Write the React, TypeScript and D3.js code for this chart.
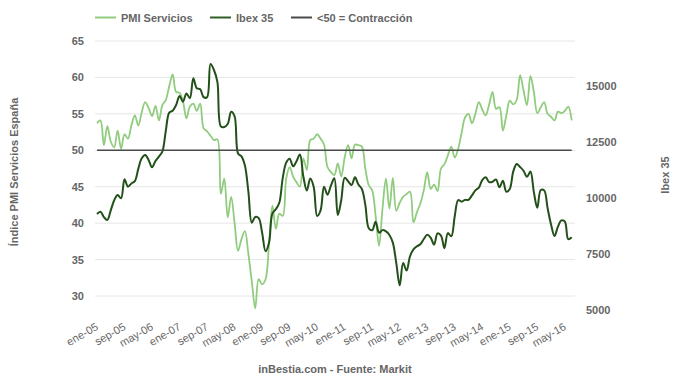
import React from "react";
import * as d3 from "d3";

const MONTHS = ["ene", "feb", "mar", "abr", "may", "jun", "jul", "ago", "sep", "oct", "nov", "dic"];
const START_YEAR = 5; // 2005

const pmiServicios: number[] = [
  53.7, 54.1, 50.7, 53.3, 51.2, 50.4, 52.7, 50.2, 52.2, 51.6, 53.4, 54.8,
  53.4, 55.2, 56.6, 55.8, 54.7, 56.1, 54.1, 56.2, 56.9, 58.8, 60.4, 58.0,
  57.9, 56.7, 54.4, 56.0, 56.4, 55.4, 56.4, 53.0, 52.6, 52.0, 51.4, 51.5,
  44.0, 46.1, 40.8, 43.6, 40.0, 36.2, 37.8, 38.9, 35.8, 32.0, 28.3, 32.3,
  31.6, 32.3, 37.0, 42.4, 39.2, 41.3, 41.0, 46.1, 47.7, 46.4, 45.6, 45.0,
  48.9, 47.3, 51.4, 51.6, 52.2, 51.6, 50.8, 47.7, 47.0, 46.6, 48.2, 46.4,
  49.0, 50.7, 48.9, 50.8, 50.7, 50.5, 47.5, 45.2, 44.5, 41.0, 36.9, 42.0,
  46.1, 42.0, 46.2, 41.7, 42.8, 43.6, 44.0, 44.3, 40.1, 41.5, 42.7, 44.5,
  47.0, 44.7, 45.3, 44.4, 47.5, 48.1, 49.3, 50.5, 49.0, 50.2, 52.4, 54.5,
  55.0, 53.7, 55.0, 56.6, 55.6, 54.8, 56.3, 58.0, 55.7, 55.9, 52.7, 54.8,
  56.8, 56.3, 56.9, 60.3, 58.2, 56.2, 60.2, 58.0, 55.1, 55.9, 56.6, 55.0,
  54.6, 54.1, 55.3, 55.1, 55.4, 56.0, 54.1,
];

const ibex35: number[] = [
  9286, 9390, 9150, 9018, 9450, 9900, 10134, 9985, 10834, 10506, 10650, 10750,
  11300, 11771, 11920, 11700, 11369, 11650, 11850, 12069, 13000, 13810, 13899, 14150,
  14550, 14300, 14670, 14450, 15342, 14896, 14850, 14500, 14500, 15982, 15714, 15182,
  13200, 13170, 13300, 13854, 13650, 11990, 11860, 11450, 10300, 8900, 9150, 9100,
  8450, 7620, 8000, 9316, 9500, 9787, 10900, 11577, 11756, 11414, 11643, 11940,
  10947, 10333, 10871, 10493, 9200, 9450, 10506, 10150, 10550, 10878, 9242, 9900,
  10900, 10750, 10581, 10923, 10600, 10400, 9700, 8650, 8560, 8944, 8453, 8566,
  8509, 8350, 8008, 7100, 6100, 7102, 6760, 7400, 7708, 7843, 7934, 8168,
  8362, 8230, 7920, 8419, 8320, 7762, 8433, 8290, 9186, 9907, 9837, 9917,
  9920, 10114, 10340, 10459, 10798, 10923, 10708, 10728, 10826, 10477, 10770, 10280,
  10403, 11178, 11521, 11385, 11218, 10945, 11180, 10260, 9560, 10360, 10340, 9544,
  8815, 8306, 8723, 9000, 8950, 8163, 8250,
];

const contraccion = 50;

const categories: string[] = pmiServicios.map(
  (_, i) => `${MONTHS[i % 12]}-${String(START_YEAR + Math.floor(i / 12)).padStart(2, "0")}`
);
const xTickStep = 8;
const leftTicks = [30, 35, 40, 45, 50, 55, 60, 65];
const rightTicks = [5000, 7500, 10000, 12500, 15000];

const W = 680;
const H = 382;
const FONT = "'Liberation Sans', Arial, Helvetica, sans-serif";
const PMI_COLOR = "#90cc7e";
const IBEX_COLOR = "#23501a";
const CONTR_COLOR = "#4a4a4a";
const TEXT = "#666666";

export default function App() {
  const plotLeft = 95;
  const plotRight = 575;
  const x = d3.scaleLinear().domain([0, categories.length - 1]).range([97, 571.7]);
  const yL = d3.scaleLinear().domain([30, 65]).range([296, 41]);
  const yR = d3.scaleLinear().domain([5000, 15000]).range([310, 86]);

  const pmiLine = d3
    .line<number>()
    .x((_, i) => x(i))
    .y((d) => yL(d))
    .curve(d3.curveCatmullRom.alpha(0.5));
  const ibexLine = d3
    .line<number>()
    .x((_, i) => x(i))
    .y((d) => yR(d))
    .curve(d3.curveCatmullRom.alpha(0.5));

  const xTicks = d3.range(0, categories.length, xTickStep);

  const legend = [
    { label: "PMI Servicios", color: PMI_COLOR, x: 95 },
    { label: "Ibex 35", color: "#2f5f24", x: 210 },
    { label: "<50 = Contracción", color: CONTR_COLOR, x: 291 },
  ];

  return (
    <svg
      width={W}
      height={H}
      style={{ position: "absolute", left: 0, top: 0, background: "#fff" }}
      fontFamily={FONT}
    >
      <rect x={0} y={0} width={W} height={H} fill="#fff" />
      {/* gridlines */}
      {leftTicks.map((t) => (
        <line key={t} x1={plotLeft} x2={plotRight} y1={yL(t)} y2={yL(t)} stroke="#e6e6e6" strokeWidth={1} />
      ))}
      {/* series */}
      <path d={pmiLine(pmiServicios) || ""} fill="none" stroke={PMI_COLOR} strokeWidth={1.8} />
      <path d={ibexLine(ibex35) || ""} fill="none" stroke={IBEX_COLOR} strokeWidth={2} />
      <line
        x1={x(0)}
        x2={x(categories.length - 1)}
        y1={yL(contraccion)}
        y2={yL(contraccion)}
        stroke={CONTR_COLOR}
        strokeWidth={1.5}
      />
      {/* left axis labels */}
      {leftTicks.map((t) => (
        <text key={t} x={84} y={yL(t) + 4} textAnchor="end" fontSize={11} fontWeight="bold" fill={TEXT}>
          {t}
        </text>
      ))}
      {/* right axis labels */}
      {rightTicks.map((t) => (
        <text key={t} x={586} y={yR(t) + 4} textAnchor="start" fontSize={11} fontWeight="bold" fill={TEXT}>
          {t}
        </text>
      ))}
      {/* x axis labels */}
      {xTicks.map((i) => (
        <text
          key={i}
          transform={`translate(${x(i) + 2},${329}) rotate(-30)`}
          textAnchor="end"
          fontSize={11}
          fill={TEXT}
        >
          {categories[i]}
        </text>
      ))}
      {/* axis titles */}
      <text
        transform={`translate(18,172) rotate(-90)`}
        textAnchor="middle"
        fontSize={11}
        fontWeight="bold"
        fill={TEXT}
      >
        Índice PMI Servicios España
      </text>
      <text
        transform={`translate(669,175) rotate(-90)`}
        textAnchor="middle"
        fontSize={11}
        fontWeight="bold"
        fill={TEXT}
      >
        Ibex 35
      </text>
      {/* legend */}
      {legend.map((l) => (
        <g key={l.label}>
          <line x1={l.x} x2={l.x + 21} y1={17.5} y2={17.5} stroke={l.color} strokeWidth={2} />
          <text x={l.x + 26} y={21.5} fontSize={11} fontWeight="bold" fill={TEXT}>
            {l.label}
          </text>
        </g>
      ))}
      {/* footer */}
      <text x={335} y={373} textAnchor="middle" fontSize={11} fontWeight="bold" fill={TEXT}>
        inBestia.com - Fuente: Markit
      </text>
    </svg>
  );
}
